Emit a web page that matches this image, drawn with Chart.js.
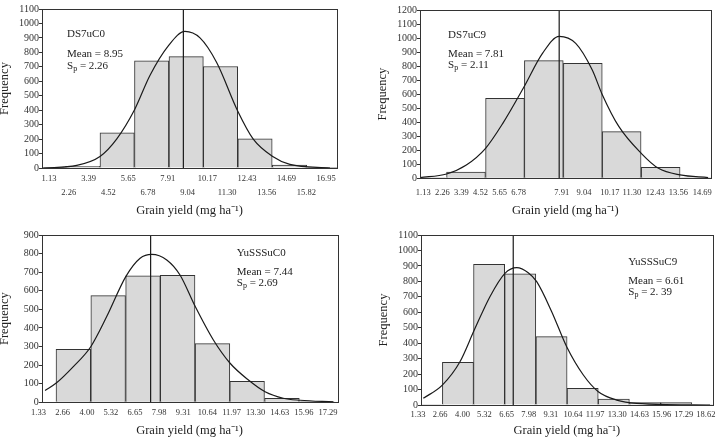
<!DOCTYPE html>
<html>
<head>
<meta charset="utf-8">
<script src="https://cdn.jsdelivr.net/npm/chart.js@4.4.1/dist/chart.umd.min.js"></script>
<style>
html, body { margin: 0; padding: 0; background: #fff; }
#wrap { position: relative; width: 721px; height: 441px; overflow: hidden; }
canvas { position: absolute; }
</style>
</head>
<body>
<div id="wrap">
  <canvas id="c1" width="360" height="221" style="left:0;top:0"></canvas>
  <canvas id="c2" width="361" height="221" style="left:360px;top:0"></canvas>
  <canvas id="c3" width="360" height="221" style="left:0;top:220px"></canvas>
  <canvas id="c4" width="361" height="221" style="left:360px;top:220px"></canvas>
</div>
<script>
// DS7uC0
var p1BinMid = [1.09, 3.06, 5.02, 6.99, 8.96, 10.92, 12.89, 14.86, 16.82];
var p1Count = [3, 12, 243, 741, 771, 702, 201, 21, 3];
var p1CurveX = [0.80, 2.71, 4.04, 4.99, 6.02, 6.89, 7.94, 8.89, 9.75, 10.70, 11.90, 12.79, 13.90, 14.88, 17.17];
var p1CurveY = [0, 18, 80, 200, 405, 640, 845, 945, 900, 730, 395, 200, 80, 25, 0];
var p1Mean = 8.80;
var p1Ticks = ['1.13', '2.26', '3.39', '4.52', '5.65', '6.78', '7.91', '9.04', '10.17', '11.30', '12.43', '13.56', '14.69', '15.82', '16.95'];
var p1TickPos = p1Ticks.map(Number);

// DS7uC9
var p2BinMid = [1.36, 3.66, 5.97, 8.27, 10.58, 12.88, 15.19, 17.49];
var p2Count = [3, 45, 570, 839, 820, 333, 78, 2];
var p2CurveX = [0.94, 2.51, 3.68, 4.82, 5.84, 7.10, 8.19, 9.18, 10.16, 11.14, 11.72, 12.71, 14.04, 15.06, 16.34, 18.0];
var p2CurveY = [5, 31, 95, 214, 392, 653, 891, 1012, 962, 772, 600, 370, 178, 71, 24, 5];
var p2Mean = 9.18;
var p2Ticks = ['1.13', '2.26', '3.39', '4.52', '5.65', '6.78', '7.91', '9.04', '10.17', '11.30', '12.43', '13.56', '14.69'];
var p2TickPos = [1.13, 2.26, 3.39, 4.52, 5.65, 6.78, 9.33, 10.65, 12.18, 13.49, 14.87, 16.24, 17.65];

// YuSSSuC0
var p3BinMid = [3.25, 5.17, 7.09, 9.00, 10.92, 12.83, 14.75, 16.67];
var p3Count = [285, 574, 680, 683, 316, 113, 22, 4];
var p3CurveX = [1.69, 2.29, 3.25, 4.21, 5.09, 6.14, 6.93, 7.57, 8.40, 9.13, 9.97, 10.97, 11.89, 12.90, 13.82, 14.82, 15.75, 17.58];
var p3CurveY = [63, 102, 192, 299, 461, 676, 775, 796, 766, 685, 515, 335, 210, 120, 57, 22, 11, 2];
var p3Mean = 7.51;
var p3Ticks = ['1.33', '2.66', '4.00', '5.32', '6.65', '7.98', '9.31', '10.64', '11.97', '13.30', '14.63', '15.96', '17.29'];
var p3TickPos = p3Ticks.map(Number);

// YuSSSuC9
var p4BinMid = [1.85, 3.73, 5.60, 7.47, 9.35, 11.22, 13.09, 14.97, 16.84, 18.71];
var p4Count = [3, 276, 910, 848, 442, 108, 39, 15, 15, 3];
var p4CurveX = [1.65, 2.79, 3.85, 4.71, 5.65, 6.55, 7.26, 7.95, 8.46, 9.36, 10.26, 11.26, 12.16, 13.26, 14.46, 18.87];
var p4CurveY = [43, 129, 280, 485, 701, 852, 889, 856, 798, 604, 377, 194, 86, 32, 11, 0];
var p4Mean = 7.05;
var p4Ticks = ['1.33', '2.66', '4.00', '5.32', '6.65', '7.98', '9.31', '10.64', '11.97', '13.30', '14.63', '15.96', '17.29', '18.62'];
var p4TickPos = p4Ticks.map(Number);

var serif = '"Liberation Serif", "Times New Roman", serif';

// box around the plot area
var framePlugin = {
    id: 'frame',
    afterDatasetsDraw: function(chart) {
        var a = chart.chartArea, ctx = chart.ctx;
        ctx.save();
        ctx.strokeStyle = '#333';
        ctx.lineWidth = 1;
        ctx.strokeRect(Math.round(a.left) + 0.5, Math.round(a.top) + 0.5,
            Math.round(a.right - a.left), Math.round(a.bottom - a.top));
        ctx.restore();
    }
};

// name / mean / Sp text inside each panel
var notesPlugin = {
    id: 'notes',
    afterDraw: function(chart, args, o) {
        var ctx = chart.ctx, xs = chart.scales.x, ys = chart.scales.y;
        var x = xs.getPixelForValue(o.x);
        ctx.save();
        ctx.fillStyle = '#222';
        ctx.textBaseline = 'middle';
        ctx.textAlign = 'left';
        ctx.font = '11px ' + serif;
        ctx.fillText(o.name, x, ys.getPixelForValue(o.yName));
        ctx.fillText('Mean = ' + o.mean, x, ys.getPixelForValue(o.yMean));
        var y3 = ys.getPixelForValue(o.ySp);
        ctx.fillText('S', x, y3);
        var w1 = ctx.measureText('S').width;
        ctx.font = '8px ' + serif;
        ctx.fillText('p', x + w1, y3 + 3);
        var w2 = ctx.measureText('p').width;
        ctx.font = '11px ' + serif;
        ctx.fillText(' = ' + o.sp, x + w1 + w2, y3);
        ctx.restore();
    }
};

function makePanel(id, p) {
    var cv = document.getElementById(id);
    var W = cv.width, H = cv.height;
    return new Chart(cv, {
        type: 'bar',
        data: {
            datasets: [{
                type: 'line',
                data: [{x: p.mean, y: 0}, {x: p.mean, y: p.yMax}],
                borderColor: '#1a1a1a',
                borderWidth: 1.2,
                pointRadius: 0,
                order: 1,
            }, {
                type: 'line',
                data: p.curveX.map(function(v, i) { return {x: v, y: p.curveY[i]}; }),
                borderColor: '#1a1a1a',
                borderWidth: 1.2,
                pointRadius: 0,
                cubicInterpolationMode: 'monotone',
                order: 2,
            }, {
                type: 'bar',
                xAxisID: 'xb',
                grouped: false,
                data: p.binMid.map(function(v, i) { return {x: v, y: p.count[i]}; }),
                backgroundColor: '#d9d9d9',
                borderColor: '#333',
                borderWidth: 1,
                barPercentage: 1,
                categoryPercentage: 1,
                order: 3,
            }],
        },
        options: {
            responsive: false,
            animation: false,
            events: [],
            layout: {padding: {left: 0, top: p.area.t, right: W - p.area.r, bottom: 0}},
            plugins: {
                legend: {display: false},
                tooltip: {enabled: false},
                notes: p.notes,
            },
            scales: {
                x: {
                    type: 'linear',
                    offset: false,
                    min: p.xMin,
                    max: p.xMax,
                    afterBuildTicks: function(s) {
                        s.ticks = p.tickPos.map(function(v) { return {value: v}; });
                    },
                    afterFit: function(s) { s.height = H - p.area.b; },
                    grid: {display: false, drawTicks: false, offset: false},
                    border: {display: false},
                    ticks: {
                        autoSkip: false,
                        maxRotation: 0,
                        minRotation: 0,
                        padding: p.tickPad,
                        color: '#333',
                        font: {family: serif, size: 8.5, lineHeight: p.twoRows ? 1.6 : 1.2},
                        callback: function(v, i) {
                            if (p.twoRows && i % 2 === 1) return ['', p.tickText[i]];
                            return p.tickText[i];
                        },
                    },
                    title: {
                        display: true,
                        text: 'Grain yield (mg ha\u207B\u00B9)',
                        color: '#222',
                        font: {family: serif, size: 12.5, lineHeight: 1.2},
                        padding: {top: 0, bottom: p.xTitlePad},
                    },
                },
                xb: {
                    type: 'linear',
                    display: false,
                    offset: false,
                    grid: {offset: false},
                    min: p.xMin,
                    max: p.xMax,
                    ticks: {stepSize: 1000},
                },
                y: {
                    min: 0,
                    max: p.yMax,
                    afterFit: function(s) { s.width = p.area.l; },
                    grid: {drawOnChartArea: false, tickLength: 3, color: '#333'},
                    border: {display: false},
                    ticks: {
                        stepSize: 100,
                        autoSkip: false,
                        padding: 0,
                        color: '#333',
                        font: {family: serif, size: 10},
                        callback: function(v) { return String(v); },
                    },
                    title: {
                        display: true,
                        text: 'Frequency',
                        color: '#222',
                        font: {family: serif, size: 12.5, lineHeight: 1},
                        padding: {top: p.yTitlePad, bottom: 0},
                    },
                },
            },
        },
        plugins: [framePlugin, notesPlugin],
    });
}

makePanel('c1', {
    binMid: p1BinMid, count: p1Count, curveX: p1CurveX, curveY: p1CurveY, mean: p1Mean,
    tickPos: p1TickPos, tickText: p1Ticks, twoRows: true,
    xMin: 0.73, xMax: 17.57, yMax: 1100,
    area: {l: 42, r: 337, t: 9, b: 168},
    tickPad: 4.2, xTitlePad: 2.5, yTitlePad: -1.25,
    notes: {name: 'DS7uC0', mean: '8.95', sp: '2.26', x: 2.16, yName: 927, yMean: 789, ySp: 706},
});

makePanel('c2', {
    binMid: p2BinMid, count: p2Count, curveX: p2CurveX, curveY: p2CurveY, mean: p2Mean,
    tickPos: p2TickPos, tickText: p2Ticks, twoRows: false,
    xMin: 0.936, xMax: 18.16, yMax: 1200,
    area: {l: 60, r: 352.7, t: 10, b: 178.3},
    tickPad: 9, xTitlePad: 2.8, yTitlePad: 16.75,
    notes: {name: 'DS7uC9', mean: '7.81', sp: '2.11', x: 2.60, yName: 1022, yMean: 886, ySp: 808},
});

makePanel('c3', {
    binMid: p3BinMid, count: p3Count, curveX: p3CurveX, curveY: p3CurveY, mean: p3Mean,
    tickPos: p3TickPos, tickText: p3Ticks, twoRows: false,
    xMin: 1.506, xMax: 17.80, yMax: 900,
    area: {l: 41.7, r: 337.3, t: 15, b: 182.3},
    tickPad: 5.6, xTitlePad: 2.8, yTitlePad: -1.25,
    notes: {name: 'YuSSSuC0', mean: '7.44', sp: '2.69', x: 12.26, yName: 801, yMean: 699, ySp: 640},
});

makePanel('c4', {
    binMid: p4BinMid, count: p4Count, curveX: p4CurveX, curveY: p4CurveY, mean: p4Mean,
    tickPos: p4TickPos, tickText: p4Ticks, twoRows: false,
    xMin: 1.51, xMax: 19.03, yMax: 1100,
    area: {l: 61, r: 352.7, t: 15, b: 185},
    tickPad: 4.6, xTitlePad: 2.8, yTitlePad: 17,
    notes: {name: 'YuSSSuC9', mean: '6.61', sp: '2. 39', x: 13.96, yName: 927, yMean: 802, ySp: 733},
});
</script>
</body>
</html>
